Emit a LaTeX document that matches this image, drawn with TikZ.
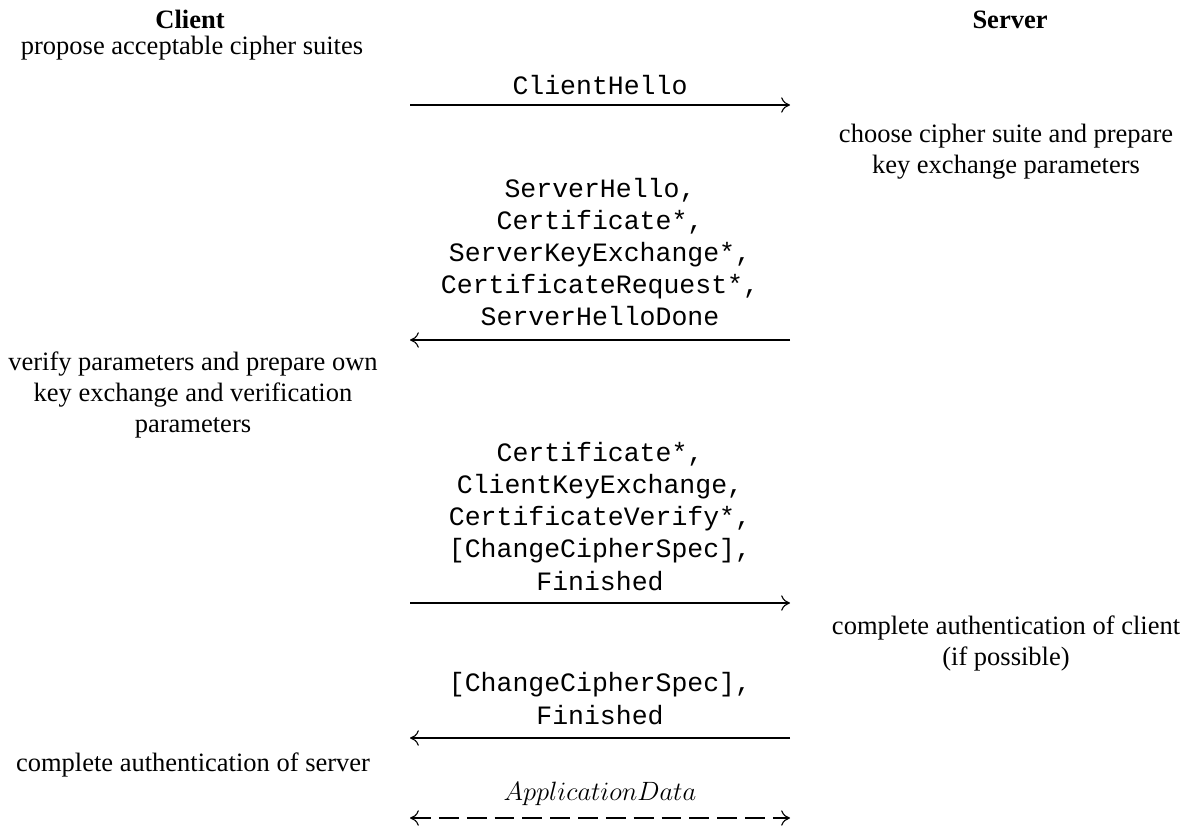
\documentclass[tikz,border=0pt]{standalone}
\usepackage{fontspec}
\setmainfont{Liberation Serif}
\setmonofont{Liberation Mono}
\usetikzlibrary{arrows.meta}
\begin{document}
\begin{tikzpicture}[x=0.4528pt, y=-0.4528pt,
  txt/.style={font=\fontsize{12}{14}\selectfont, align=center, anchor=base, inner sep=0pt},
  head/.style={txt, font=\fontsize{12}{14}\selectfont\bfseries},
  msg/.style={txt, font=\fontsize{12}{14.5}\selectfont\ttfamily},
  arr/.style={line width=0.5pt, -{Computer Modern Rightarrow[length=4pt,width=7pt]}},
  darr/.style={line width=0.5pt, {Computer Modern Rightarrow[length=4pt,width=7pt]}-{Computer Modern Rightarrow[length=4pt,width=7pt]}, dash pattern=on 9pt off 3.6pt}]
\useasboundingbox (0,0) rectangle (1190,828);
% headers
\node[head] (client) at (190,29) {Client};
\node[head] (server) at (1010,29) {Server};
% client / server actions (anchor = baseline of the last line)
\node[txt] (propose) at (192,55) {propose acceptable cipher suites};
\node[txt] (choose) at (1006,173) {choose cipher suite and prepare\\key exchange parameters};
\node[txt] (verify) at (193,432) {verify parameters and prepare own\\key exchange and verification\\parameters};
\node[txt] (authc) at (1006,665) {complete authentication of client\\(if possible)};
\node[txt] (auths) at (193,771) {complete authentication of server};
% messages
\node[msg] (m1) at (600,95) {ClientHello};
\node[msg] (m2) at (600,325.5) {ServerHello,\\Certificate*,\\ServerKeyExchange*,\\CertificateRequest*,\\ServerHelloDone};
\node[msg] (m3) at (600,590) {Certificate*,\\ClientKeyExchange,\\CertificateVerify*,\\{[ChangeCipherSpec]},\\Finished};
\node[msg] (m4) at (600,724) {{[ChangeCipherSpec]},\\Finished};
\node[txt] (m5) at (600,800) {$ApplicationData$};
% lifeline endpoints
\coordinate (c1) at (410,105);  \coordinate (s1) at (790,105);
\coordinate (c2) at (410,340);  \coordinate (s2) at (790,340);
\coordinate (c3) at (410,603);  \coordinate (s3) at (790,603);
\coordinate (c4) at (410,738);  \coordinate (s4) at (790,738);
\coordinate (c5) at (410,818);  \coordinate (s5) at (790,818);
\draw[arr] (c1) -- (s1);
\draw[arr] (s2) -- (c2);
\draw[arr] (c3) -- (s3);
\draw[arr] (s4) -- (c4);
\draw[darr] (c5) -- (s5);
\end{tikzpicture}
\end{document}
